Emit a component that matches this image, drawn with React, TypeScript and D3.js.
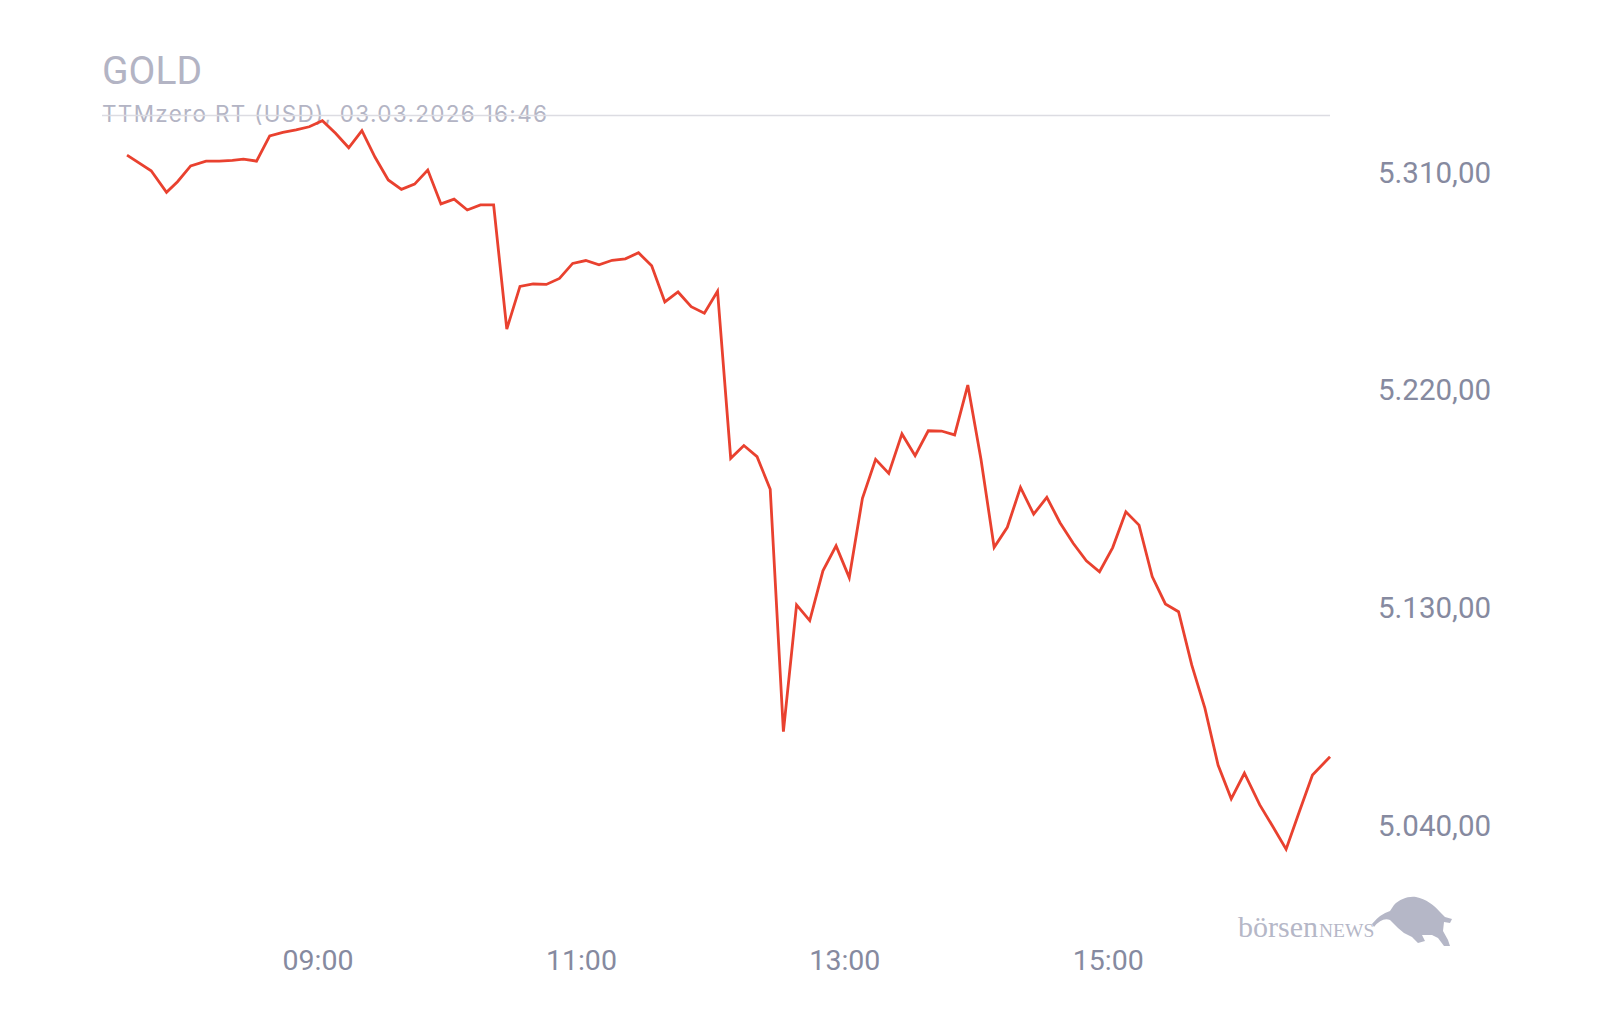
import React from "react";
import * as d3 from "d3";

const TITLE = "GOLD";
const SUBTITLE = "TTMzero RT (USD), 03.03.2026 16:46";
const DAY = "2026-03-03";

const times = [
  "07:33", "07:44", "07:51", "07:56", "08:02", "08:09", "08:15", "08:21", "08:26", "08:32",
  "08:38", "08:44", "08:50", "08:56", "09:02", "09:08", "09:14", "09:20", "09:26", "09:32",
  "09:38", "09:44", "09:50", "09:56", "10:02", "10:08", "10:14", "10:20", "10:26", "10:32",
  "10:38", "10:44", "10:50", "10:56", "11:02", "11:08", "11:14", "11:20", "11:26", "11:32",
  "11:38", "11:44", "11:50", "11:56", "12:02", "12:08", "12:14", "12:20", "12:26", "12:32",
  "12:38", "12:44", "12:50", "12:56", "13:02", "13:08", "13:14", "13:20", "13:26", "13:32",
  "13:38", "13:44", "13:50", "13:56", "14:02", "14:08", "14:14", "14:20", "14:26", "14:32",
  "14:38", "14:44", "14:50", "14:56", "15:02", "15:08", "15:14", "15:20", "15:26", "15:32",
  "15:38", "15:44", "15:50", "15:56", "16:02", "16:09", "16:15", "16:21", "16:27", "16:33",
  "16:41",
];

const prices = [
  5317.0, 5310.5, 5301.6, 5306.0, 5312.5, 5314.5, 5314.5, 5314.8, 5315.3, 5314.5,
  5324.9, 5326.4, 5327.4, 5328.7, 5331.2, 5326.0, 5320.0, 5327.1, 5316.1, 5306.7,
  5302.8, 5305.0, 5310.8, 5296.8, 5298.8, 5294.3, 5296.4, 5296.4, 5245.0, 5262.7,
  5263.7, 5263.5, 5266.0, 5272.2, 5273.4, 5271.6, 5273.5, 5274.1, 5276.6, 5271.2,
  5256.3, 5260.4, 5254.3, 5251.6, 5260.7, 5191.6, 5196.9, 5192.3, 5178.8, 5078.6,
  5131.0, 5124.5, 5145.1, 5155.4, 5142.3, 5175.1, 5191.2, 5185.4, 5201.7, 5192.7,
  5203.0, 5202.9, 5201.3, 5221.9, 5191.2, 5154.8, 5163.1, 5179.6, 5168.5, 5175.5,
  5165.0, 5156.5, 5149.2, 5144.7, 5154.7, 5169.5, 5164.0, 5142.7, 5131.4, 5128.2,
  5106.2, 5088.3, 5064.8, 5050.8, 5061.4, 5048.3, 5039.3, 5030.0, 5045.5, 5060.7,
  5068.2,
];

const yTicks = [5040, 5130, 5220, 5310];
const xTickLabels = ["09:00", "11:00", "13:00", "15:00"];

const parseTime = d3.timeParse("%Y-%m-%d %H:%M");
const toDate = (t: string) => parseTime(`${DAY} ${t}`) as Date;

const deLocale = d3.formatLocale({
  decimal: ",",
  thousands: ".",
  grouping: [3],
  currency: ["", " €"],
});
const fmtPrice = deLocale.format(",.2f");

export default function App() {
  const W = 1600;
  const H = 1020;

  const x = d3
    .scaleTime()
    .domain([toDate("09:00"), toDate("15:00")])
    .range([318, 1108.3]);
  const y = d3.scaleLinear().domain([5040, 5310]).range([825, 172]);

  const data = times.map((t, i) => ({ date: toDate(t), value: prices[i] }));
  const line = d3
    .line<{ date: Date; value: number }>()
    .x((d) => x(d.date))
    .y((d) => y(d.value));

  const axisColor = "#868aa0";
  const lightColor = "#b3b4c4";

  return (
    <div style={{ position: "absolute", left: 0, top: 0 }}>
      <svg width={W} height={H} viewBox={`0 0 ${W} ${H}`} style={{ display: "block", background: "#fff" }}>
        <text x={102} y={84} fontFamily="Roboto, sans-serif" fontSize={39} fill={lightColor}>
          {TITLE}
        </text>
        <text
          x={102}
          y={122}
          fontFamily="Inter, sans-serif"
          fontSize={22.5}
          letterSpacing={1.3}
          fill={lightColor}
        >
          {SUBTITLE}
        </text>
        <line x1={102} x2={1330} y1={115.5} y2={115.5} stroke="#dcdce2" strokeWidth={1.5} />

        {yTicks.map((v) => (
          <text
            key={v}
            x={1378}
            y={y(v) + 10.5}
            fontFamily="Roboto, sans-serif"
            fontSize={29.5}
            fill={axisColor}
          >
            {fmtPrice(v)}
          </text>
        ))}

        {xTickLabels.map((t) => (
          <text
            key={t}
            x={x(toDate(t))}
            y={969.5}
            textAnchor="middle"
            fontFamily="Roboto, sans-serif"
            fontSize={28.5}
            fill={axisColor}
          >
            {t}
          </text>
        ))}

        <path
          d={line(data) ?? ""}
          fill="none"
          stroke="#e9412f"
          strokeWidth={2.8}
          strokeLinejoin="miter"
          strokeLinecap="butt"
        />

        <g fill="#b5b7c7">
          <text x={1238} y={937} fontFamily="'Liberation Serif', 'DejaVu Serif', serif" fontSize={30}>
            börsen
            <tspan fontSize={19.5} dx={1}>NEWS</tspan>
          </text>
          <path d="M1372,924 Q1380,914 1390,911 L1394,905 C1400,899 1408,896 1416,897 C1426,899 1434,905 1440,912 L1445,917 L1452,919 L1450,923 L1444,922 L1443,931 L1448,940 L1450,946 L1444,946 L1438,938 L1432,935 L1422,935 L1425,941 L1418,943 L1412,937 L1404,933 L1398,928 L1394,924 L1390,920 Q1382,917 1374,927 Z" />
        </g>
      </svg>
    </div>
  );
}
